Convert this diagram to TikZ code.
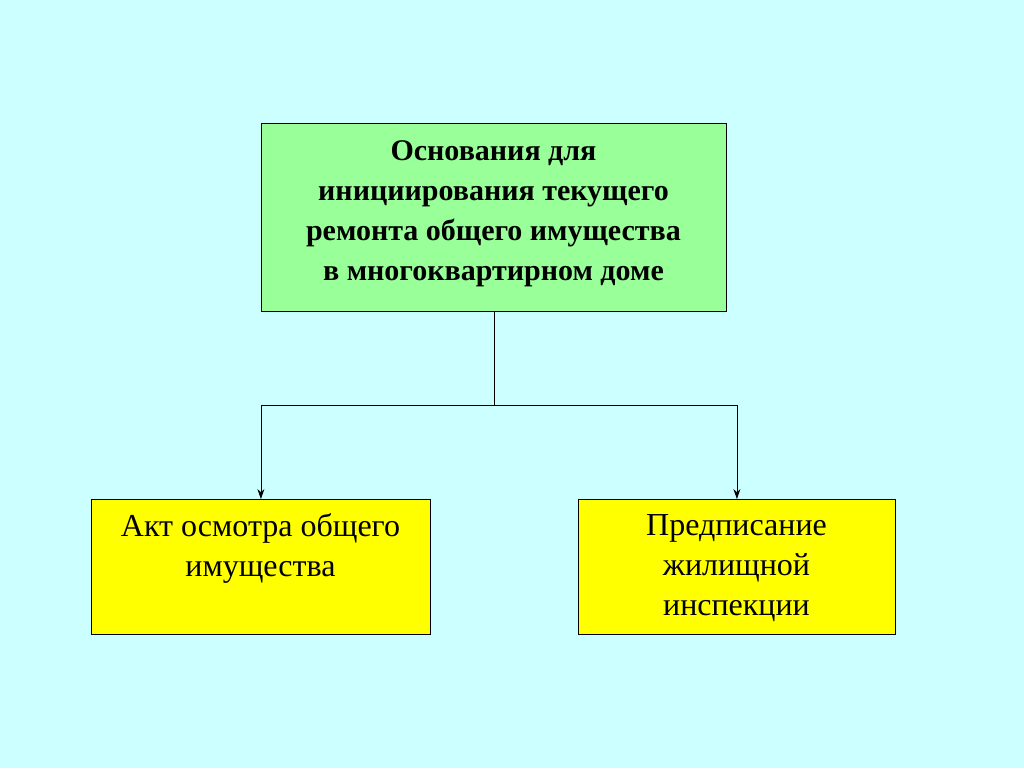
\documentclass[tikz,border=0pt]{standalone}
\usepackage{fontspec}
\setmainfont{Liberation Serif}
\usetikzlibrary{arrows.meta}
\definecolor{bg}{RGB}{204,255,255}
\definecolor{gr}{RGB}{153,255,153}
\definecolor{ye}{RGB}{255,255,0}
\begin{document}
\begin{tikzpicture}[x=1pt,y=-1pt,
  box/.style={draw=black,line width=0.8pt,anchor=north west,inner sep=0pt},
  txt/.style={align=center,font=\fontsize{32}{40}\selectfont},
  conn/.style={line width=0.8pt,-{Stealth[length=10pt,width=7pt]}}]
\fill[bg] (0,0) rectangle (1024,768);
\useasboundingbox (0,0) rectangle (1024,768);
\node[box,fill=gr,minimum width=465pt,minimum height=188pt] (top) at (261,123) {};
\node[txt,font=\bfseries\fontsize{30}{40}\selectfont] at (493.5,214) {Основания для\\инициирования текущего\\ремонта общего имущества\\в многоквартирном доме};
\node[box,fill=ye,minimum width=339pt,minimum height=135pt] (l) at (91,499) {};
\node[txt] at (260.5,548) {Акт осмотра общего\\имущества};
\node[box,fill=ye,minimum width=317pt,minimum height=135pt] (r) at (578,499) {};
\node[txt] at (736.5,568) {Предписание\\жилищной\\инспекции};
\coordinate (j) at (top.south |- 0,405);
\draw[line width=0.8pt] (top.south) -- (j);
\draw[conn] (j) -| (l.north);
\draw[conn] (j) -| (r.north);
\end{tikzpicture}
\end{document}
